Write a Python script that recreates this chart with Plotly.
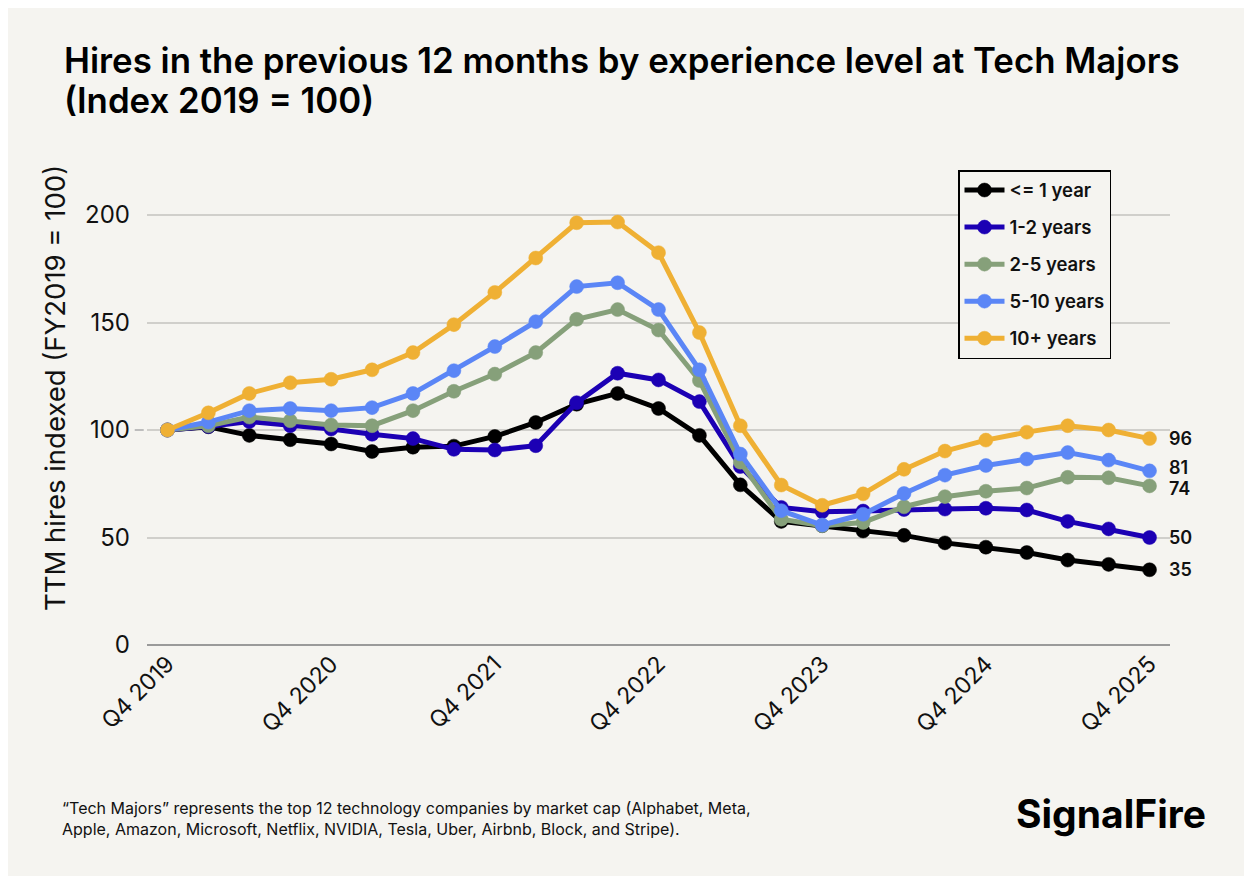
import plotly.graph_objects as go

# Quarters Q4 2019 .. Q4 2025 (25 points)
quarters = [f"Q{q} {y}" for y in range(2019, 2026) for q in (1, 2, 3, 4)][3:28]
tick_labels = ["Q4 2019", "Q4 2020", "Q4 2021", "Q4 2022", "Q4 2023", "Q4 2024", "Q4 2025"]

le_1 = [100, 101.5, 97.5, 95.5, 93.5, 90, 92, 92.5, 97, 103.5, 112, 117, 110,
        97.5, 74.5, 57.5, 55.5, 53, 51, 47.5, 45.5, 43, 39.5, 37.5, 35]
y_1_2 = [100, 101.6, 103.9, 102, 100.5, 98, 96, 91, 90.7, 92.7, 112.7, 126.4, 123.3,
         113.2, 83, 64, 62, 62.3, 63, 63.2, 63.6, 62.8, 57.5, 54, 50]
y_2_5 = [100, 102, 106, 104.3, 102.3, 102, 109, 118, 126, 136, 151.5, 156, 146.5,
         123, 85, 58.5, 55.5, 57, 64.3, 69, 71.5, 73, 78, 77.8, 74]
y_5_10 = [100, 103.7, 109, 110, 109, 110.4, 117, 127.6, 138.8, 150.4, 166.7, 168.5, 156,
          128, 88.8, 62.5, 55.8, 60.8, 70.5, 79, 83.5, 86.5, 89.5, 86, 81]
y_10p = [100, 108, 117, 122, 123.6, 128, 136, 149, 164, 180, 196.4, 196.7, 182.5,
         145.3, 102, 74.4, 65, 70.3, 81.7, 90.2, 95.3, 99, 102, 100, 96]

series = [
    ("<= 1 year", le_1, "#000000"),
    ("1-2 years", y_1_2, "#1c00b4"),
    ("2-5 years", y_2_5, "#86a07a"),
    ("5-10 years", y_5_10, "#5b86f6"),
    ("10+ years", y_10p, "#efb034"),
]
# small nudges so the end labels of close series do not collide
end_shift = {"5-10 years": 3, "2-5 years": -3}

title_lines = ["Hires in the previous 12 months by experience level at Tech Majors",
               "(Index 2019 = 100)"]

BG = "#f5f4f0"
FONT = "Inter"

# page body adds 8px, so the figure is laid out 8px up/left of the screenshot
L, R, T, B = 139, 90, 164, 239
PW, PH = 1252 - L - R, 876 - T - B


def px(x):  # figure pixel -> paper x
    return (x - L) / PW


def py(y):  # figure pixel -> paper y
    return (T + PH - y) / PH


xs = list(range(len(quarters)))
fig = go.Figure()

# reference line at 100
fig.add_shape(type="line", xref="paper", x0=-0.012, x1=1, yref="y", y0=100, y1=100,
              line=dict(color="#bdbdbd", width=2, dash="dash"), layer="below")

for name, vals, col in series:
    fig.add_trace(go.Scatter(
        x=xs, y=vals, name=name, mode="lines+markers", legendgroup=name,
        line=dict(color=col, width=5),
        marker=dict(color=col, size=14, line=dict(color=col, width=0.5)),
    ))
    fig.add_annotation(x=xs[-1], y=vals[-1], text=f"{vals[-1]:.0f}", showarrow=False,
                       xanchor="left", yanchor="middle", xshift=17,
                       yshift=end_shift.get(name, 0),
                       font=dict(family=FONT, size=18, color="#111111", weight=600))

# title, two lines placed separately to control spacing
for i, line in enumerate(title_lines):
    fig.add_annotation(text=line, xref="paper", yref="paper", x=px(54), y=py(52 + 40 * i),
                       xanchor="left", yanchor="middle", showarrow=False,
                       font=dict(family=FONT, size=34.8, color="#000000", weight=600))

# y-axis title
fig.add_annotation(text="TTM hires indexed (FY2019 = 100)", textangle=-90,
                   xref="paper", yref="paper", x=px(47), y=py(380),
                   xanchor="center", yanchor="middle", showarrow=False,
                   font=dict(family=FONT, size=27.5, color="#111111"))

fig.update_layout(
    width=1252, height=876,
    paper_bgcolor=BG, plot_bgcolor=BG,
    margin=dict(l=L, r=R, t=T, b=B),
    font=dict(family=FONT, color="#111111"),
    legend=dict(x=px(950), y=1 + (T - 162) / PH, xanchor="left", yanchor="top",
                bgcolor=BG, bordercolor="#000000", borderwidth=1.5,
                font=dict(family=FONT, size=18.5, color="#111111", weight=600),
                tracegroupgap=10, itemwidth=40),
    showlegend=True,
)

fig.update_xaxes(range=[-0.5, 24.5], tickmode="array",
                 tickvals=[quarters.index(t) for t in tick_labels], ticktext=tick_labels,
                 tickangle=-45, tickfont=dict(family=FONT, size=23, color="#111111"),
                 showgrid=False, zeroline=False, showline=False)

fig.update_yaxes(range=[0, 220], tickvals=[0, 50, 100, 150, 200],
                 tickfont=dict(family=FONT, size=24, color="#111111"),
                 ticklabelstandoff=16,
                 gridcolor="#d0cfcb", gridwidth=1.5, zeroline=True, zerolinecolor="#9a9a9a",
                 zerolinewidth=1.5, showline=False)

fig.add_annotation(
    text="“Tech Majors” represents the top 12 technology companies by market cap (Alphabet, Meta,<br>"
         "Apple, Amazon, Microsoft, Netflix, NVIDIA, Tesla, Uber, Airbnb, Block, and Stripe).",
    xref="paper", yref="paper", x=px(52), y=py(788),
    xanchor="left", yanchor="top", align="left", showarrow=False,
    font=dict(family=FONT, size=16, color="#111111"))

fig.add_annotation(
    text="<b>SignalFire</b>",
    xref="paper", yref="paper", x=px(1200), y=py(780),
    xanchor="right", yanchor="top", showarrow=False,
    font=dict(family=FONT, size=39, color="#000000"))

fig.write_html("out.html")
